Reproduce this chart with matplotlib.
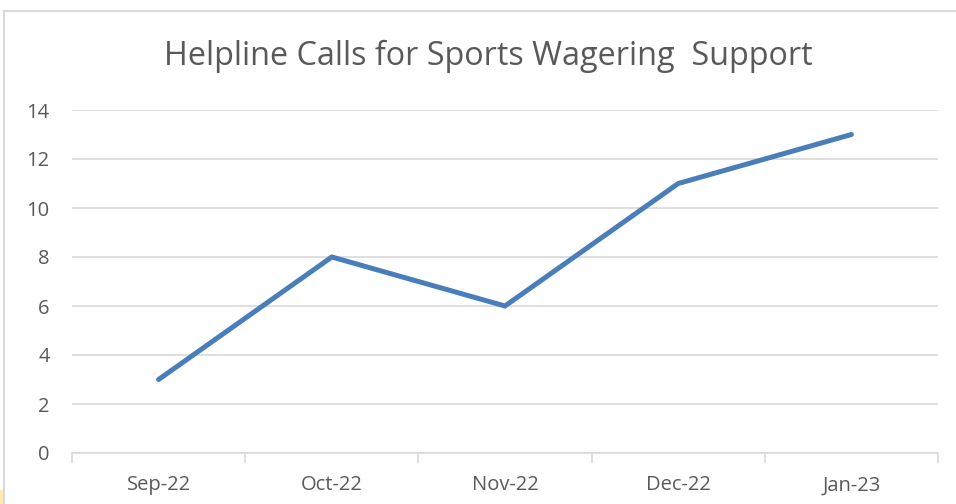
import matplotlib.pyplot as plt
from matplotlib.patches import Rectangle

plt.rcParams['font.family'] = ['Open Sans', 'DejaVu Sans']

months = ['Sep-22', 'Oct-22', 'Nov-22', 'Dec-22', 'Jan-23']
calls = [3, 8, 6, 11, 13]
y_ticks = [0, 2, 4, 6, 8, 10, 12, 14]

W, H = 956, 504
fig = plt.figure(figsize=(W / 100, H / 100), dpi=100)

# outer chart frame (only top and left edges visible in the crop)
fig.add_artist(plt.Line2D([4 / W, 4 / W], [0, 1 - 11 / H], color='#d9d9d9', lw=1.5))
fig.add_artist(plt.Line2D([4 / W, 1], [1 - 11 / H, 1 - 11 / H], color='#d9d9d9', lw=1.5))
fig.add_artist(Rectangle((0, 0), 3 / W, 14 / H, transform=fig.transFigure,
                         color='#fdebb0', lw=0))

ax = fig.add_axes([72 / W, 51 / H, (938 - 72) / W, (453 - 110) / H])
x = range(len(months))
ax.plot(x, calls, color='#4a7ebb', lw=3.6, solid_capstyle='round', solid_joinstyle='miter', zorder=3)

ax.set_xlim(-0.5, len(months) - 0.5)
ax.set_ylim(0, 14)
ax.set_yticks(y_ticks)
ax.set_xticks(list(x))
ax.set_xticklabels(months)
ax.set_xticks([i - 0.5 for i in range(len(months) + 1)], minor=True)

ax.grid(axis='y', color='#d9d9d9', lw=1.2, zorder=0)
for s in ['top', 'right', 'left']:
    ax.spines[s].set_visible(False)
ax.spines['bottom'].set_color('#d9d9d9')
ax.spines['bottom'].set_linewidth(1.2)

ax.tick_params(axis='y', length=0, pad=16, labelsize=14.5, labelcolor='#595959')
ax.tick_params(axis='x', which='major', length=0, pad=16, labelsize=14.5, labelcolor='#595959')
ax.tick_params(axis='x', which='minor', length=7, color='#d9d9d9', width=1.2)

fig.text(488 / W, 1 - 56 / H, 'Helpline Calls for Sports Wagering  Support',
         ha='center', va='center', fontsize=23.3, color='#595959')

fig.savefig('out.png', dpi=100)
